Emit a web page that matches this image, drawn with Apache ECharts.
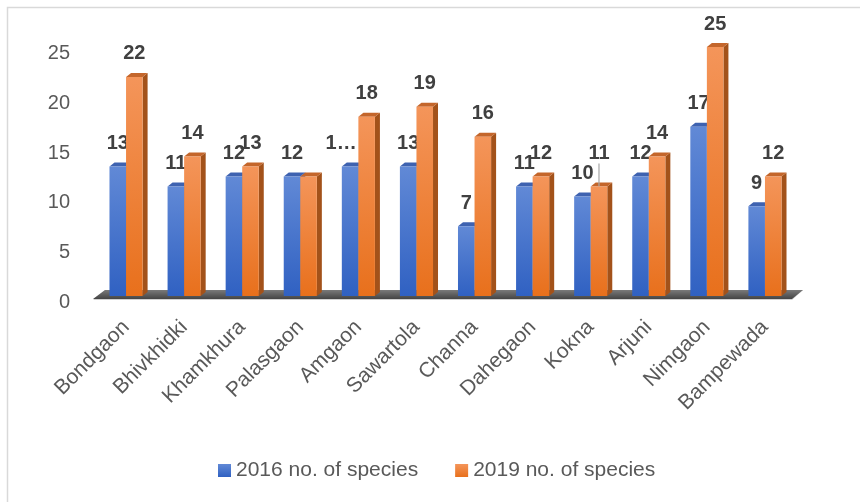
<!DOCTYPE html>
<html>
<head>
<meta charset="utf-8">
<script src="https://cdn.jsdelivr.net/npm/echarts@6/dist/echarts.min.js"></script>
<style>
html,body{margin:0;padding:0;background:#fff;}
#chart{width:860px;height:502px;}
</style>
</head>
<body>
<div id="chart"></div>
<script>
const categories = ['Bondgaon','Bhivkhidki','Khamkhura','Palasgaon','Amgaon','Sawartola','Channa','Dahegaon','Kokna','Arjuni','Nimgaon','Bampewada'];
const values2016 = [13,11,12,12,13,13,7,11,10,12,17,9];
const values2019 = [22,14,13,12,18,19,16,12,11,14,25,12];
const seriesNames = ['2016 no. of species','2019 no. of species'];
const yMin = 0, yMax = 25, yStep = 5;

const FONT = 'Liberation Sans';
const GAP = 0.43;
const DX = 5, DY = 4;

function grad(c1, c2){
  return new echarts.graphic.LinearGradient(0,0,0,1,[{offset:0,color:c1},{offset:1,color:c2}]);
}

function makeDepth(side, topColor, sideColor){
  return function(params, api){
    const i = api.value(0), v = api.value(1);
    const base = api.coord([i, 0]);
    const top = api.coord([i, v]);
    const band = api.size([1, 0])[0];
    const w = band * (1 - GAP) / 2;
    const x0 = side === 0 ? base[0] - w : base[0];
    const x1 = x0 + w;
    const yt = top[1], yb = base[1];
    return {
      type: 'group',
      children: [
        {type:'polygon', shape:{points:[[x1,yt],[x1+DX,yt-DY],[x1+DX,yb-DY],[x1,yb]]}, style:{fill:sideColor}},
        {type:'polygon', shape:{points:[[x0,yt],[x1,yt],[x1+DX,yt-DY],[x0+DX,yt-DY]]}, style:{fill:topColor}}
      ]
    };
  };
}

function floorItem(params, api){
  const cs = params.coordSys;
  const yb = cs.y + cs.height;
  const xl = cs.x, xr = cs.x + cs.width;
  return {
    type:'group',
    children:[
      {type:'polygon', shape:{points:[[xl-4,yb+4],[xr-2,yb+4],[xr+9,yb-6],[xl+8,yb-6]]},
        style:{fill:'#d0d0d0'}},
      {type:'polygon', shape:{points:[[xl-4,yb+3],[xr-2,yb+3],[xr+9,yb-6],[xl+8,yb-6]]},
        style:{fill:new echarts.graphic.LinearGradient(0,0,0,1,[{offset:0,color:'#7a7a7a'},{offset:1,color:'#444444'}])}}
    ]
  };
}

const d2016 = values2016.map((v,i)=>[i,v]);
const d2019 = values2019.map((v,i)=>[i,v]);

const bar2016 = values2016.map((v,i)=>{
  const item = {value:v};
  if (i === 4) item.label = {formatter:'1…', offset:[-9,0]};
  return item;
});
const bar2019 = values2019.map((v,i)=>{
  const item = {value:v};
  if (i === 3) item.label = {show:false};
  if (i === 8) item.labelLine = {show:true, lineStyle:{color:'#a6a6a6', width:1.2}};
  return item;
});

const chart = echarts.init(document.getElementById('chart'));
chart.setOption({
  backgroundColor:'#ffffff',
  animation:false,
  textStyle:{fontFamily:FONT},
  graphic:[{type:'rect', left:5, top:5, shape:{width:900,height:600}, style:{fill:'none', stroke:'#d9d9d9', lineWidth:1.5}, z:-1}],
  grid:{left:97, top:47, width:697, height:249},
  legend:{
    data:seriesNames, left:213, top:455, itemWidth:13, itemHeight:13, itemGap:37, icon:'rect',
    textStyle:{fontFamily:FONT, fontSize:21, color:'#595959'}
  },
  xAxis:{
    type:'category', data:categories,
    axisLine:{show:false}, axisTick:{show:false},
    axisLabel:{rotate:45, margin:28, fontSize:21, color:'#595959', fontFamily:FONT, interval:0}
  },
  yAxis:{
    type:'value', min:yMin, max:yMax, interval:yStep,
    splitLine:{show:false}, axisLine:{show:false}, axisTick:{show:false},
    axisLabel:{margin:27, color:'#595959', fontFamily:FONT, fontSize:20,
      formatter:'{v|{value}}',
      rich:{v:{fontSize:20, color:'#595959', fontFamily:FONT, padding:[13,0,0,0]}}}
  },
  series:[
    {type:'custom', name:'floor', data:[[0,0]], renderItem:floorItem, z:1, silent:true, clip:false},
    {type:'custom', name:'depth2016', data:d2016, encode:{x:0,y:1}, renderItem:makeDepth(0,'#3e62b0','#2c4f98'), z:2, silent:true, clip:false},
    {type:'bar', name:seriesNames[0], data:bar2016, barGap:'0%', barCategoryGap:(GAP*100)+'%', z:3,
      itemStyle:{color:grad('#6189d6','#3061c2')},
      label:{show:true, position:'top', distance:13, fontSize:20, fontWeight:'bold', color:'#404040', fontFamily:FONT}},
    {type:'custom', name:'depth2019', data:d2019, encode:{x:0,y:1}, renderItem:makeDepth(1,'#c4662b','#a3521a'), z:4, silent:true, clip:false},
    {type:'bar', name:seriesNames[1], data:bar2019, barGap:'0%', barCategoryGap:(GAP*100)+'%', z:5,
      itemStyle:{color:grad('#f4955a','#e8701c')},
      label:{show:true, position:'top', distance:13, fontSize:20, fontWeight:'bold', color:'#404040', fontFamily:FONT},
      labelLine:{show:false},
      labelLayout:p=> p.dataIndex===8 ? {dy:-10} : {}
    }
  ]
});
</script>
</body>
</html>
